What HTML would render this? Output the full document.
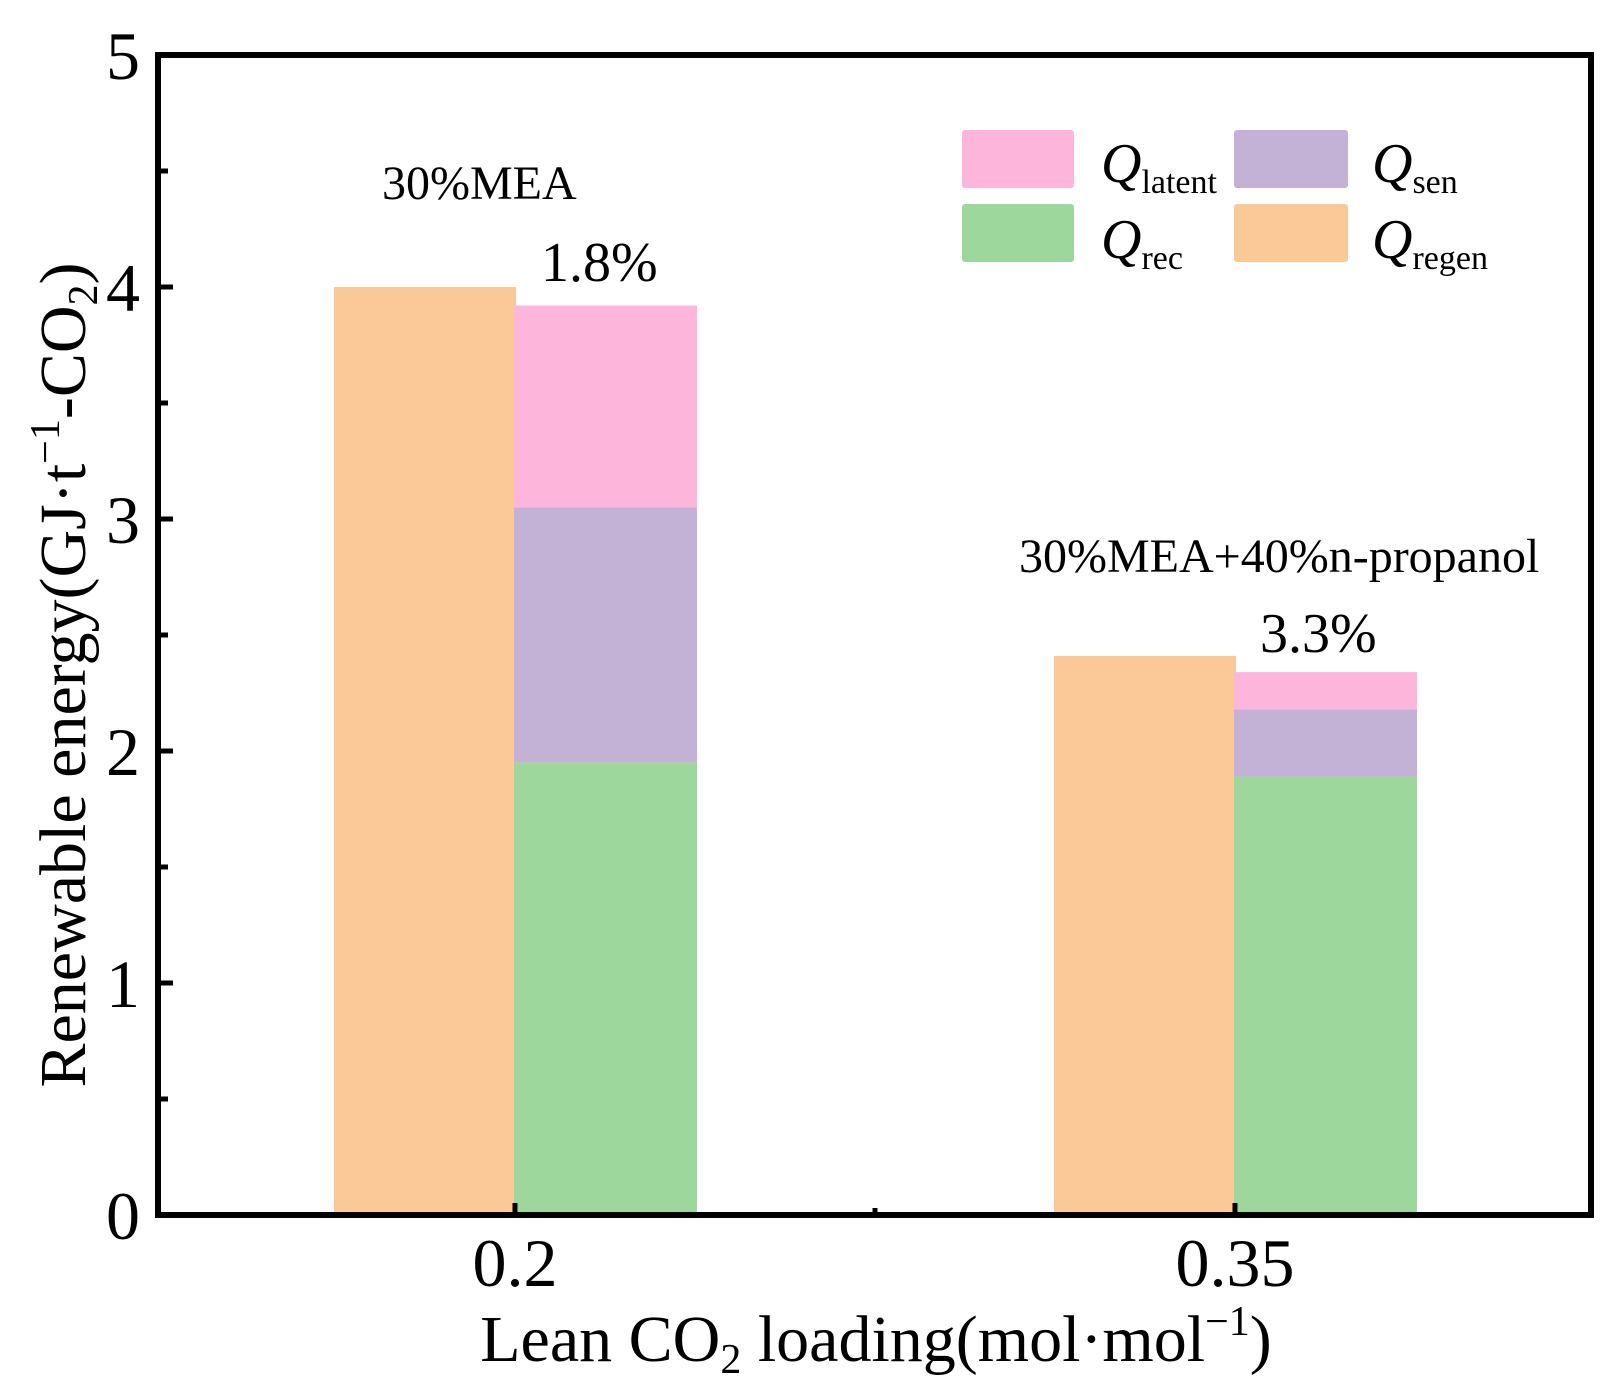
<!DOCTYPE html>
<html><head><meta charset="utf-8"><style>
html,body{margin:0;padding:0;background:#fff;}
svg{display:block;font-family:"Liberation Serif","DejaVu Serif",serif;}
</style></head><body>
<svg id="chart" width="1622" height="1397" viewBox="0 0 1622 1397" xmlns="http://www.w3.org/2000/svg">
<g id="bars"></g>
<g id="axes"></g>
<g>
  <rect x="962" y="130" width="112" height="58" rx="3" fill="#fdb5db"/>
  <text x="1101" y="182" font-size="56" font-style="italic">Q<tspan font-size="34" font-style="normal" dy="11">latent</tspan></text>
  <rect x="1234" y="130" width="114" height="58" rx="3" fill="#c3b2d5"/>
  <text x="1372" y="182" font-size="56" font-style="italic">Q<tspan font-size="34" font-style="normal" dy="11">sen</tspan></text>
  <rect x="962" y="204" width="112" height="58" rx="3" fill="#9ed79c"/>
  <text x="1101" y="258" font-size="56" font-style="italic">Q<tspan font-size="34" font-style="normal" dy="11">rec</tspan></text>
  <rect x="1234" y="204" width="114" height="58" rx="3" fill="#fbc898"/>
  <text x="1372" y="258" font-size="56" font-style="italic">Q<tspan font-size="34" font-style="normal" dy="11">regen</tspan></text>
</g>
<text x="382" y="199" font-size="48">30%MEA</text>
<text x="541" y="281" font-size="56">1.8%</text>
<text x="1019" y="572" font-size="48">30%MEA+40%n-propanol</text>
<text x="1260" y="652" font-size="56">3.3%</text>
<text x="876" y="1361" font-size="66" text-anchor="middle">Lean CO<tspan font-size="42" dy="12">2</tspan><tspan dy="-12"> loading(mol·mol</tspan><tspan font-size="42" dy="-26">−1</tspan><tspan dy="26">)</tspan></text>
<text transform="translate(85,675) rotate(-90)" font-size="66" text-anchor="middle">Renewable energy(GJ·t<tspan font-size="42" dy="-26">−1</tspan><tspan dy="26">-CO</tspan><tspan font-size="42" dy="12">2</tspan><tspan dy="-12">)</tspan></text>
</svg>
<script>
const categories = ["0.2", "0.35"];
const regen = [4.0, 2.41];
const rec = [1.95, 1.89];
const sen = [1.10, 0.29];
const latent = [0.87, 0.16];
const yTicks = [0, 1, 2, 3, 4, 5];
const yMinor = [0.5, 1.5, 2.5, 3.5, 4.5];

const NS = "http://www.w3.org/2000/svg";
const X0 = 158, X1 = 1591, Y0 = 1215, Y5 = 55;
function y(v){ return Y0 - (Y0 - Y5) * v / 5; }
function xc(i){ return 515 + 720 * i; }
const BW = 182;
function mk(tag, attrs, parent){
  const e = document.createElementNS(NS, tag);
  for (const k in attrs) e.setAttribute(k, attrs[k]);
  parent.appendChild(e); return e;
}
const bars = document.getElementById('bars');
const axes = document.getElementById('axes');
categories.forEach((c, i) => {
  const cx = xc(i);
  const r = mk('rect', {x: cx - BW + 1, y: y(regen[i]), width: BW, height: Y0 - y(regen[i]), fill: '#fbc898'}, bars);
  
  
  let base = 0;
  const segs = [[rec[i], '#9ed79c', 'rec'], [sen[i], '#c3b2d5', 'sen'], [latent[i], '#fdb5db', 'latent']];
  segs.forEach(s => {
    const top = base + s[0];
    const b = mk('rect', {x: cx - 1, y: y(top), width: BW + 1, height: y(base) - y(top), fill: s[1]}, bars);
    
    
    base = top;
  });
  const t = mk('text', {x: cx, y: 1286, 'font-size': 68, 'text-anchor': 'middle'}, axes);
  t.textContent = c;
  
  
  const tk = mk('line', {x1: cx, x2: cx, y1: Y0, y2: Y0 - 12, stroke: '#000', 'stroke-width': 5}, axes);
  
  
});
const mx = mk('line', {x1: (xc(0) + xc(1)) / 2, x2: (xc(0) + xc(1)) / 2, y1: Y0, y2: Y0 - 7, stroke: '#000', 'stroke-width': 5}, axes);


yTicks.forEach(v => {
  const t = mk('text', {x: 140, y: y(v) + 24, 'font-size': 68, 'text-anchor': 'end'}, axes);
  t.textContent = v;
  
  
  const tk = mk('line', {x1: X0, x2: X0 + 15, y1: y(v), y2: y(v), stroke: '#000', 'stroke-width': 5}, axes);
  
  
});
yMinor.forEach(v => {
  const tk = mk('line', {x1: X0, x2: X0 + 10, y1: y(v), y2: y(v), stroke: '#000', 'stroke-width': 5}, axes);
  
  
});
const frame = mk('rect', {x: X0, y: Y5, width: X1 - X0, height: Y0 - Y5, fill: 'none', stroke: '#000', 'stroke-width': 6}, axes);


</script>
</body></html>
